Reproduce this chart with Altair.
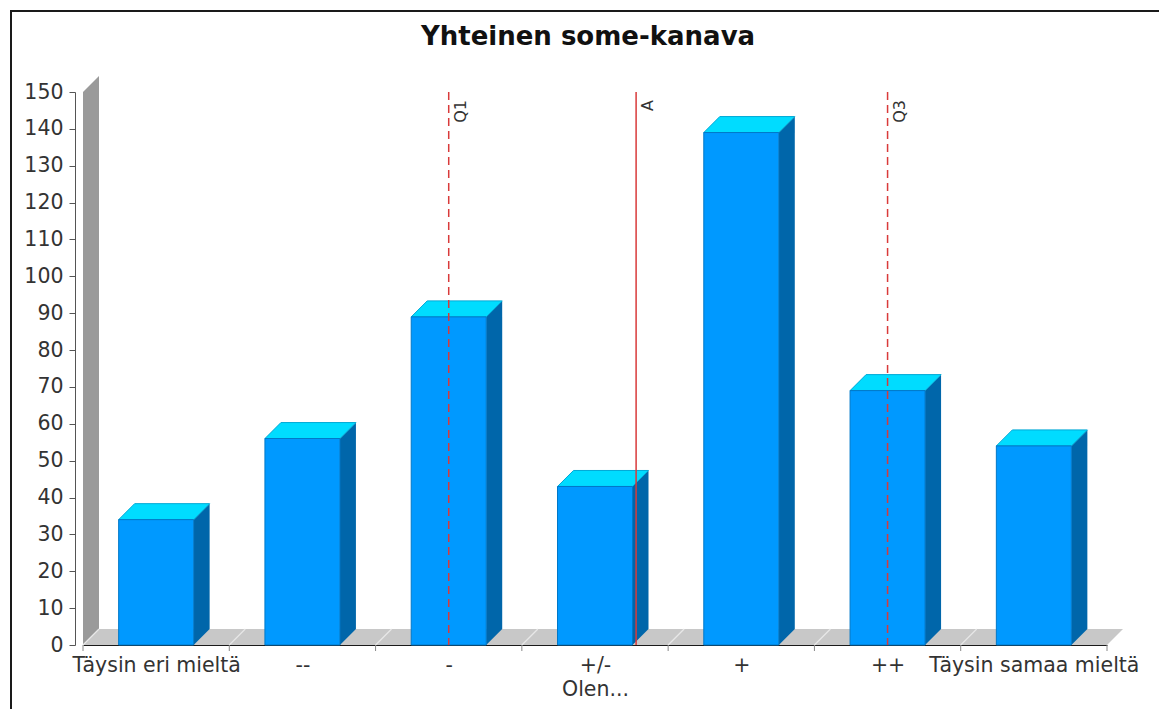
import json

import altair as alt
import numpy as np
import pandas as pd

# ---- data -------------------------------------------------------------
chart_title = "Yhteinen some-kanava"
categories = ["Täysin eri mieltä", "--", "-", "+/-", "+", "++", "Täysin samaa mieltä"]
second_lines = ["", "", "", "Olen...", "", "", ""]
counts = [34, 56, 89, 43, 139, 69, 54]
y_ticks = list(range(0, 151, 10))
marker_names = ["Q1", "A", "Q3"]

# ---- geometry / style -------------------------------------------------
W, H = 1024, 553          # plot area in px
Y_MAX = 150
DEPTH = 16                # 3D depth in px
BAR_PX = 75               # bar front width in px
FONT = "DejaVu Sans"

n_cat = len(categories)
x_lo, x_hi = 0.5, n_cat + 0.5
ux = (x_hi - x_lo) / W    # data units per px (x)
uy = Y_MAX / H            # data units per px (y)
ddx, ddy = DEPTH * ux, DEPTH * uy
half = BAR_PX * ux / 2

pos = np.arange(1, n_cat + 1)
vals = np.array(counts, dtype=float)

# summary statistics drawn as vertical markers
total = vals.sum()
mean_pos = float((pos * vals).sum() / total)
cum = np.cumsum(vals)
q1_pos = float(pos[np.searchsorted(cum, total * 0.25)])
q3_pos = float(pos[np.searchsorted(cum, total * 0.75)])

# ---- tables -------------------------------------------------------------
fronts = pd.DataFrame({"x": pos - half, "x2": pos + half, "y": vals, "y2": 0.0})

sides = pd.DataFrame(
    [dict(bar=i, x=p + half, y=v, y2=0.0) for i, (p, v) in enumerate(zip(pos, vals))]
    + [dict(bar=i, x=p + half + ddx, y=v + ddy, y2=ddy) for i, (p, v) in enumerate(zip(pos, vals))]
)
tops = pd.DataFrame(
    [dict(bar=i, y=v, x=p - half, x2=p + half) for i, (p, v) in enumerate(zip(pos, vals))]
    + [dict(bar=i, y=v + ddy, x=p - half + ddx, x2=p + half + ddx) for i, (p, v) in enumerate(zip(pos, vals))]
)
wall = pd.DataFrame({"bar": [0, 0], "x": [x_lo, x_lo + ddx], "y": [Y_MAX, Y_MAX + ddy], "y2": [0.0, ddy]})
floor = pd.DataFrame({"bar": [0, 0], "y": [0.0, ddy], "x": [x_lo, x_lo + ddx], "x2": [x_hi, x_hi + ddx]})
bounds = np.arange(x_lo, x_hi + 0.01, 1.0)
seams = pd.DataFrame({"x": bounds[:-1], "x2": bounds[:-1] + ddx, "y": 0.0, "y2": ddy})
edge_ticks = pd.DataFrame({"x": bounds})
quartiles = pd.DataFrame({"name": [marker_names[0], marker_names[2]], "x": [q1_pos, q3_pos]})
means = pd.DataFrame({"name": [marker_names[1]], "x": [mean_pos]})
markers = pd.concat([quartiles, means], ignore_index=True)

# ---- scales & axes ------------------------------------------------------
xs = alt.Scale(domain=[x_lo, x_hi], nice=False, zero=False)
ys = alt.Scale(domain=[0, Y_MAX], nice=False, zero=False)

label_lines = [[c] + ([s] if s else []) for c, s in zip(categories, second_lines)]
x_axis = alt.Axis(
    values=[int(p) for p in pos],
    labelExpr=json.dumps(label_lines, ensure_ascii=False) + "[datum.value - 1]",
    ticks=False, tickSize=0, labelPadding=10, grid=False,
    domainColor="#1a1a1a", domainWidth=1.2,
    labelFont=FONT, labelFontSize=20.5, labelColor="#333333", labelLimit=400,
    labelLineHeight=24, labelOverlap=False, labelFlush=False, title=None,
)
y_axis = alt.Axis(
    values=y_ticks, offset=8, tickSize=6, labelPadding=6, grid=False,
    domainColor="#555555", tickColor="#555555",
    labelFont=FONT, labelFontSize=20.5, labelColor="#333333", title=None,
)


def X(field="x"):
    return alt.X(f"{field}:Q", scale=xs, axis=x_axis)


def Y(field="y"):
    return alt.Y(f"{field}:Q", scale=ys, axis=y_axis, stack=False)


# ---- layers -------------------------------------------------------------
wall_layer = alt.Chart(wall).mark_area(orient="vertical", color="#9a9a9a").encode(
    x=X(), y=Y(), y2="y2:Q", detail="bar:N")

floor_layer = alt.Chart(floor).mark_area(orient="horizontal", color="#c8c8c8").encode(
    y=Y(), x=alt.X("x:Q", scale=xs, axis=x_axis, stack=False), x2="x2:Q", detail="bar:N")

seam_layer = alt.Chart(seams).mark_rule(color="#e8e8e8", strokeWidth=1.2).encode(
    x=X(), x2="x2:Q", y=Y(), y2="y2:Q")

edge_tick_layer = alt.Chart(edge_ticks).mark_rule(color="#888888").encode(
    x=X(), y=alt.value(H), y2=alt.value(H + 6))

side_layer = alt.Chart(sides).mark_area(orient="vertical", color="#0066aa").encode(
    x=X(), y=Y(), y2="y2:Q", detail="bar:N")

top_layer = alt.Chart(tops).mark_area(
    orient="horizontal", color="#00dcff", stroke="#00a9d6", strokeWidth=1
).encode(y=Y(), x=alt.X("x:Q", scale=xs, axis=x_axis, stack=False), x2="x2:Q", detail="bar:N")

front_layer = alt.Chart(fronts).mark_bar(
    color="#0099ff", stroke="#0078c8", strokeWidth=1
).encode(x=X(), x2="x2:Q", y=Y(), y2="y2:Q")

quartile_layer = alt.Chart(quartiles).mark_rule(
    color="#d93a3a", strokeWidth=1.5, strokeDash=[8, 5]
).encode(x=X(), y=alt.value(0), y2=alt.value(H))

mean_layer = alt.Chart(means).mark_rule(color="#d93a3a", strokeWidth=1.5).encode(
    x=X(), y=alt.value(0), y2=alt.value(H))

marker_text = alt.Chart(markers).mark_text(
    angle=270, align="right", baseline="top", dy=4,
    font=FONT, fontSize=16, color="#333333"
).encode(x=X(), y=alt.value(8), text="name:N")

frame_top = alt.Chart(alt.Data(values=[{}])).mark_rule(color="#1a1a1a", strokeWidth=2).encode(
    x=alt.value(-72), x2=alt.value(W + 60), y=alt.value(-81))
frame_left = alt.Chart(alt.Data(values=[{}])).mark_rule(color="#1a1a1a", strokeWidth=2).encode(
    x=alt.value(-72), y=alt.value(-82), y2=alt.value(H + 70))

chart = alt.layer(
    wall_layer, floor_layer, seam_layer, edge_tick_layer,
    side_layer, top_layer, front_layer,
    quartile_layer, mean_layer, marker_text,
    frame_top, frame_left,
).properties(
    width=W, height=H,
    background="white",
    title=alt.TitleParams(
        text=chart_title, font=FONT, fontSize=26, fontWeight="bold", color="#111111",
        anchor="middle", frame="group", baseline="alphabetic", offset=-62, dx=-7,
    ),
    autosize=alt.AutoSizeParams(type="none"),
    padding={"left": 83, "top": 92, "right": 52, "bottom": 64},
).configure_view(strokeWidth=0)

chart.save("out.html", embed_options={"renderer": "svg", "actions": False})
